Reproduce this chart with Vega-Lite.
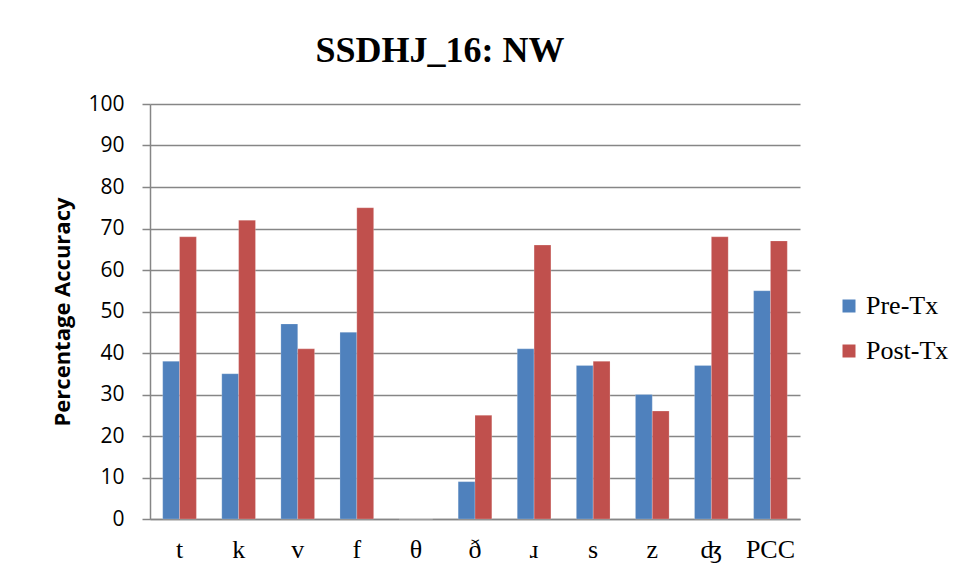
{
  "$schema": "https://vega.github.io/schema/vega-lite/v6.json",
  "width": 650,
  "height": 415,
  "autosize": {"type": "none"},
  "padding": {"left": 150, "top": 104, "right": 164, "bottom": 62},
  "background": "white",
  "title": {
    "text": "SSDHJ_16: NW",
    "font": "Liberation Serif",
    "fontSize": 36,
    "fontWeight": "bold",
    "color": "#000000",
    "anchor": "middle",
    "dx": -35,
    "offset": 23
  },
  "data": {
    "values": [
      {"sound": "t", "series": "Pre-Tx", "value": 38},
      {"sound": "t", "series": "Post-Tx", "value": 68},
      {"sound": "k", "series": "Pre-Tx", "value": 35},
      {"sound": "k", "series": "Post-Tx", "value": 72},
      {"sound": "v", "series": "Pre-Tx", "value": 47},
      {"sound": "v", "series": "Post-Tx", "value": 41},
      {"sound": "f", "series": "Pre-Tx", "value": 45},
      {"sound": "f", "series": "Post-Tx", "value": 75},
      {"sound": "θ", "series": "Pre-Tx", "value": 0},
      {"sound": "θ", "series": "Post-Tx", "value": 0},
      {"sound": "ð", "series": "Pre-Tx", "value": 9},
      {"sound": "ð", "series": "Post-Tx", "value": 25},
      {"sound": "ɹ", "series": "Pre-Tx", "value": 41},
      {"sound": "ɹ", "series": "Post-Tx", "value": 66},
      {"sound": "s", "series": "Pre-Tx", "value": 37},
      {"sound": "s", "series": "Post-Tx", "value": 38},
      {"sound": "z", "series": "Pre-Tx", "value": 30},
      {"sound": "z", "series": "Post-Tx", "value": 26},
      {"sound": "ʤ", "series": "Pre-Tx", "value": 37},
      {"sound": "ʤ", "series": "Post-Tx", "value": 68},
      {"sound": "PCC", "series": "Pre-Tx", "value": 55},
      {"sound": "PCC", "series": "Post-Tx", "value": 67}
    ]
  },
  "mark": {"type": "bar", "stroke": "#ffffff", "strokeOpacity": 0.35, "strokeWidth": 0.6},
  "encoding": {
    "x": {
      "field": "sound",
      "type": "nominal",
      "sort": ["t", "k", "v", "f", "θ", "ð", "ɹ", "s", "z", "ʤ", "PCC"],
      "scale": {"paddingInner": 0.43, "paddingOuter": 0.215},
      "axis": {
        "title": null,
        "labelAngle": 0,
        "labelFont": "Liberation Serif",
        "labelFontSize": 26,
        "labelColor": "#000000",
        "labelPadding": 17,
        "ticks": false,
        "domainColor": "#868686",
        "domainWidth": 1.5,
        "grid": false
      }
    },
    "xOffset": {
      "field": "series",
      "type": "nominal",
      "sort": ["Pre-Tx", "Post-Tx"],
      "scale": {"paddingInner": 0, "paddingOuter": 0}
    },
    "y": {
      "field": "value",
      "type": "quantitative",
      "scale": {"domain": [0, 100], "nice": false},
      "axis": {
        "title": "Percentage Accuracy",
        "titleFont": "Open Sans",
        "titleFontSize": 22,
        "titleFontWeight": "bold",
        "titleColor": "#000000",
        "titleX": -76,
        "values": [0, 10, 20, 30, 40, 50, 60, 70, 80, 90, 100],
        "labelFont": "Open Sans",
        "labelFontSize": 21,
        "labelColor": "#000000",
        "labelPadding": 18,
        "tickSize": 8,
        "tickColor": "#868686",
        "tickWidth": 1.5,
        "domainColor": "#868686",
        "domainWidth": 1.5,
        "grid": true,
        "gridColor": "#868686",
        "gridWidth": 1.5
      }
    },
    "color": {
      "field": "series",
      "type": "nominal",
      "sort": ["Pre-Tx", "Post-Tx"],
      "scale": {"domain": ["Pre-Tx", "Post-Tx"], "range": ["#4F81BD", "#C0504D"]},
      "legend": {
        "title": null,
        "orient": "none",
        "legendX": 686,
        "legendY": 189,
        "symbolType": "square",
        "symbolSize": 169,
        "symbolStrokeWidth": 0,
        "labelFont": "Liberation Serif",
        "labelFontSize": 26,
        "labelColor": "#000000",
        "labelOffset": 4,
        "rowPadding": 19
      }
    }
  },
  "config": {
    "view": {"stroke": null}
  }
}
